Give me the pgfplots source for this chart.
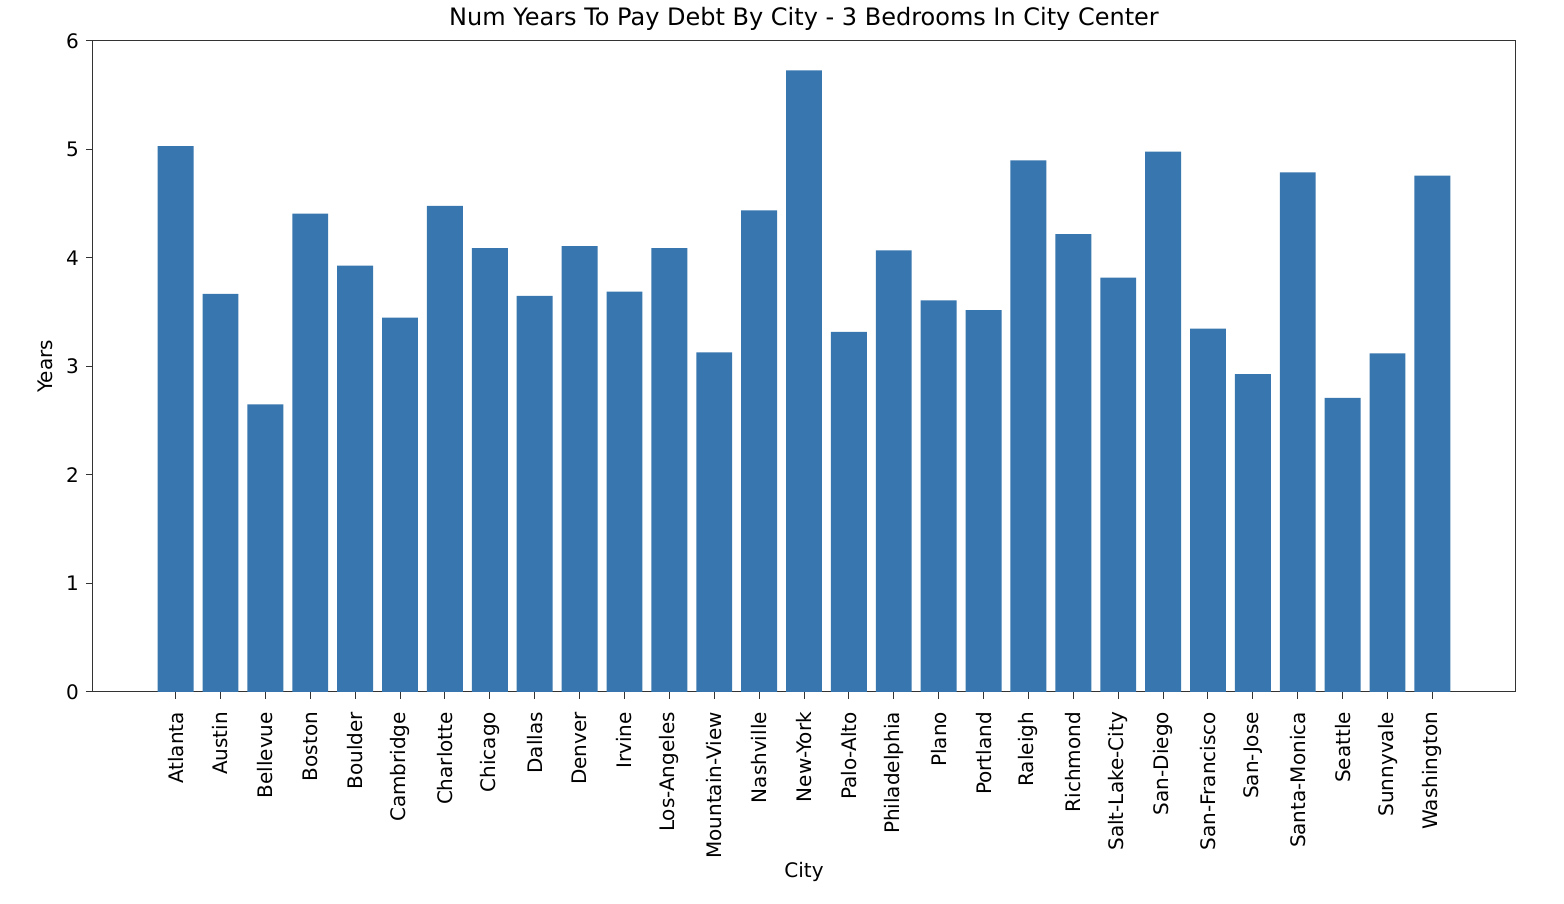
\documentclass[border=0pt]{standalone}
\usepackage{pgfplots}
\pgfplotsset{compat=1.18}
\usepackage{fontspec}
\setmainfont{DejaVu Sans}
\definecolor{barblue}{RGB}{55,118,174}

\begin{document}
\begin{tikzpicture}
\useasboundingbox (-46.5pt,-106pt) rectangle (735.5pt,346pt);
\begin{axis}[
    at={(0pt,0pt)}, anchor=south west,
    scale only axis,
    width=711pt, height=325.5pt,
    ybar, bar width=0.8, bar shift=0pt,
    xmin=-1.84, xmax=29.84,
    ymin=0, ymax=6,
    ytick={0,1,2,3,4,5,6},
    xtick=data,
    xticklabels={Atlanta,Austin,Bellevue,Boston,Boulder,Cambridge,Charlotte,Chicago,Dallas,Denver,Irvine,Los-Angeles,Mountain-View,Nashville,New-York,Palo-Alto,Philadelphia,Plano,Portland,Raleigh,Richmond,Salt-Lake-City,San-Diego,San-Francisco,San-Jose,Santa-Monica,Seattle,Sunnyvale,Washington},
    x tick label style={rotate=90, anchor=east, font=\fontsize{10}{12}\selectfont},
    xticklabel shift=3pt,
    y tick label style={font=\fontsize{10}{12}\selectfont},
    /pgf/number format/assume math mode=true,
    tick align=outside, xtick pos=bottom, ytick pos=left,
    major tick length=3.5pt,
    tick style={black!80, line width=0.5pt},
    title={Num Years To Pay Debt By City - 3 Bedrooms In City Center},
    title style={font=\fontsize{12}{14}\selectfont, at={(axis description cs:0.5,1)}, anchor=center, yshift=5pt},
    xlabel={City}, ylabel={Years},
    xlabel style={font=\fontsize{10}{12}\selectfont, at={(axis description cs:0.5,0)}, anchor=center, yshift=-90pt},
    ylabel style={font=\fontsize{10}{12}\selectfont, at={(axis description cs:0,0.5)}, anchor=center, yshift=24pt},
    axis line style={black!80, line width=0.5pt},
]
\addplot[fill=barblue, draw=none] coordinates {
    (0,5.03) (1,3.67) (2,2.65) (3,4.41) (4,3.93) (5,3.45) (6,4.48) (7,4.09)
    (8,3.65) (9,4.11) (10,3.69) (11,4.09) (12,3.13) (13,4.44) (14,5.73)
    (15,3.32) (16,4.07) (17,3.61) (18,3.52) (19,4.90) (20,4.22) (21,3.82)
    (22,4.98) (23,3.35) (24,2.93) (25,4.79) (26,2.71) (27,3.12) (28,4.76)
};
\end{axis}
\end{tikzpicture}
\end{document}
